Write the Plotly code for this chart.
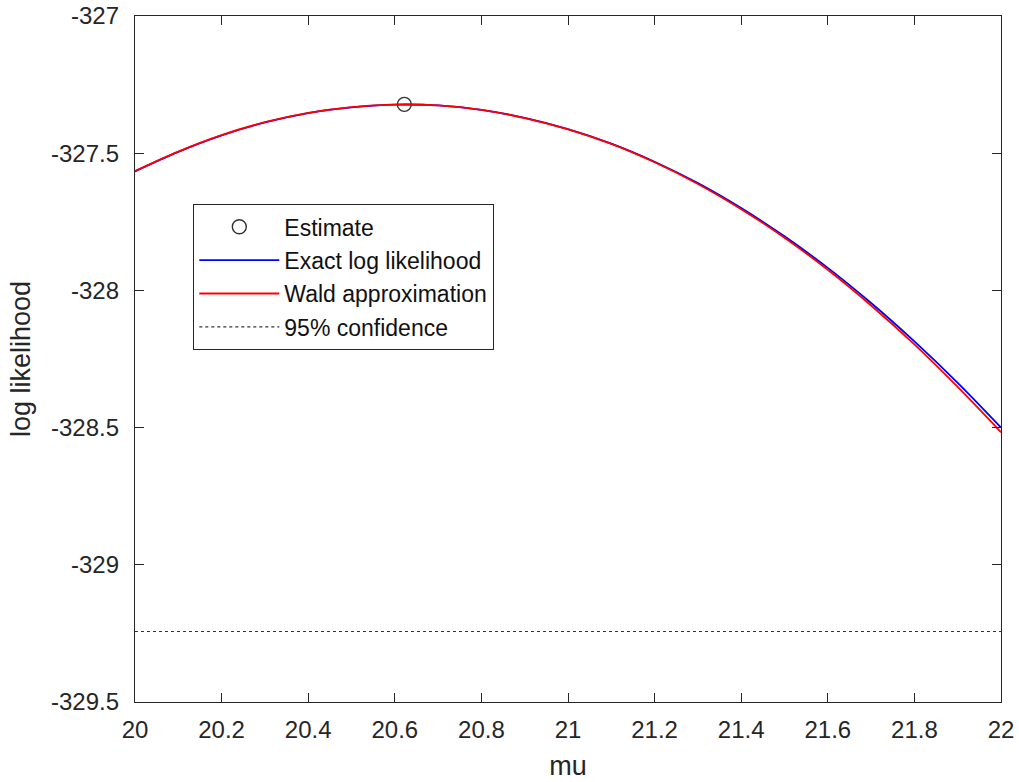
import plotly.graph_objects as go

# Data
mu = [20.0, 20.1, 20.2, 20.3, 20.4, 20.5, 20.6, 20.7, 20.8, 20.9, 21.0,
      21.1, 21.2, 21.3, 21.4, 21.5, 21.6, 21.7, 21.8, 21.9, 22.0]
exact_ll = [-327.566, -327.495, -327.435, -327.388, -327.354, -327.333, -327.323,
            -327.326, -327.342, -327.371, -327.412, -327.465, -327.531, -327.609,
            -327.700, -327.803, -327.918, -328.046, -328.186, -328.337, -328.500]
wald_ll = [-327.565, -327.494, -327.434, -327.387, -327.353, -327.332, -327.323,
           -327.326, -327.342, -327.372, -327.413, -327.466, -327.533, -327.612,
           -327.704, -327.808, -327.925, -328.055, -328.197, -328.352, -328.517]
mu_hat = [20.622]
ll_hat = [-327.322]
conf_mu = [20.0, 22.0]
conf_level = [-329.243, -329.243]

x_ticks = [20.0, 20.2, 20.4, 20.6, 20.8, 21.0, 21.2, 21.4, 21.6, 21.8, 22.0]
x_ticktext = ["20", "20.2", "20.4", "20.6", "20.8", "21", "21.2", "21.4", "21.6", "21.8", "22"]
y_ticks = [-329.5, -329.0, -328.5, -328.0, -327.5, -327.0]
y_ticktext = ["-329.5", "-329", "-328.5", "-328", "-327.5", "-327"]

AX = "#262626"
FONT = "Liberation Sans, Arial, sans-serif"

fig = go.Figure()
fig.add_trace(go.Scatter(
    x=mu_hat, y=ll_hat, mode="markers", name="Estimate", legendgroup="a",
    marker=dict(symbol="circle-open", size=14, color="#333333", line=dict(width=1.4, color="#333333")),
))
fig.add_trace(go.Scatter(
    x=mu, y=exact_ll, mode="lines", name="Exact log likelihood", legendgroup="b",
    line=dict(color="#0000ff", width=1.8, shape="spline"),
))
fig.add_trace(go.Scatter(
    x=mu, y=wald_ll, mode="lines", name="Wald approximation", legendgroup="c",
    line=dict(color="#ff0000", width=1.8, shape="spline"),
))
fig.add_trace(go.Scatter(
    x=conf_mu, y=conf_level, mode="lines", name="95% confidence", legendgroup="d",
    line=dict(color="#333333", width=1.2, dash="dot"),
))

axis_common = dict(
    showline=True, linecolor=AX, linewidth=1.3, mirror="ticks",
    ticks="inside", ticklen=9, tickwidth=1.3, tickcolor=AX,
    showgrid=False, zeroline=False, automargin=False,
    tickfont=dict(family=FONT, size=24, color=AX),
)

fig.update_layout(
    width=1019, height=782,
    margin=dict(l=135, r=18, t=16, b=80, pad=0),
    paper_bgcolor="white", plot_bgcolor="white",
    font=dict(family=FONT, color=AX),
    xaxis=dict(
        range=[20, 22], tickmode="array", tickvals=x_ticks, ticktext=x_ticktext,
        title=dict(text="mu", font=dict(family=FONT, size=27, color=AX), standoff=14),
        ticklabelstandoff=6,
        **axis_common,
    ),
    yaxis=dict(
        range=[-329.5, -327], tickmode="array", tickvals=y_ticks, ticktext=y_ticktext,
        title=dict(text="log likelihood", font=dict(family=FONT, size=27, color=AX), standoff=12),
        ticklabelstandoff=10,
        **axis_common,
    ),
    legend=dict(
        x=0.067, y=0.726, xanchor="left", yanchor="top",
        bgcolor="white", bordercolor=AX, borderwidth=1.3,
        font=dict(family=FONT, size=23, color="#111111"),
        itemwidth=80, tracegroupgap=0.5, traceorder="grouped",
    ),
    showlegend=True,
)

fig.write_html(
    "out.html",
    config={"displayModeBar": False},
    post_script="document.body.style.margin='0px';document.body.style.overflow='hidden';",
)
